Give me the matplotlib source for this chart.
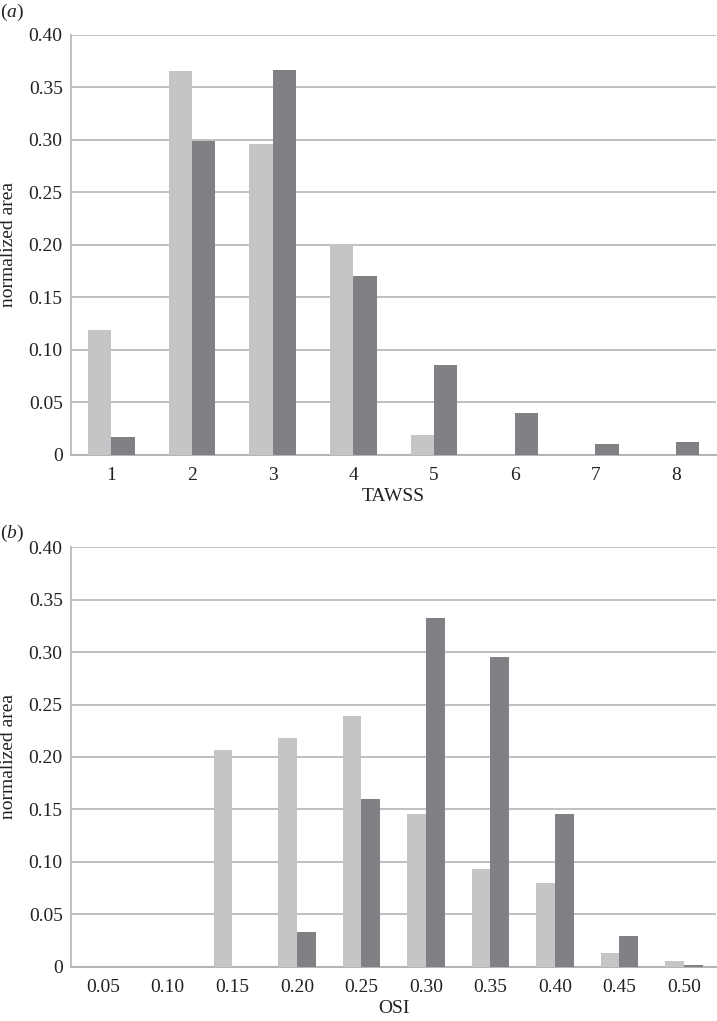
import numpy as np
import matplotlib
matplotlib.use("Agg")
import matplotlib.pyplot as plt

plt.rcParams["font.family"] = "Liberation Serif"
plt.rcParams["mathtext.fontset"] = "custom"
plt.rcParams["mathtext.it"] = "Liberation Serif:italic"
plt.rcParams["mathtext.rm"] = "Liberation Serif"

# panel (a): TAWSS histogram
tawss_bins = ["1", "2", "3", "4", "5", "6", "7", "8"]
tawss_light = [0.119, 0.365, 0.296, 0.201, 0.019, 0.0, 0.0, 0.0]
tawss_dark = [0.017, 0.299, 0.366, 0.170, 0.085, 0.040, 0.010, 0.012]

# panel (b): OSI histogram
osi_bins = ["0.05", "0.10", "0.15", "0.20", "0.25", "0.30", "0.35", "0.40", "0.45", "0.50"]
osi_light = [0.0, 0.0, 0.207, 0.218, 0.239, 0.146, 0.093, 0.080, 0.013, 0.005]
osi_dark = [0.0, 0.0, 0.0, 0.033, 0.160, 0.333, 0.295, 0.146, 0.029, 0.002]

yticks = [0, 0.05, 0.10, 0.15, 0.20, 0.25, 0.30, 0.35, 0.40]
ytick_labels = ["0", "0.05", "0.10", "0.15", "0.20", "0.25", "0.30", "0.35", "0.40"]

LIGHT = "#c4c5c7"
DARK = "#808184"
GRID = "#b4b5b7"
FS = 14

fig = plt.figure(figsize=(7.17, 10.21), dpi=100)
ax_a = fig.add_axes([0.099, 0.5547, 0.9, 0.4113])
ax_b = fig.add_axes([0.099, 0.0532, 0.9, 0.4108])


def draw(ax, cats, light, dark, xlabel):
    x = np.arange(len(cats))
    w = 0.29
    ax.bar(x - w / 2, light, width=w, color=LIGHT, zorder=3)
    ax.bar(x + w / 2, dark, width=w, color=DARK, zorder=3)
    ax.set_xlim(-0.5, len(cats) - 0.5)
    ax.set_ylim(0, 0.40)
    ax.set_yticks(yticks)
    ax.set_yticklabels(ytick_labels)
    ax.set_xticks(x)
    ax.set_xticklabels(cats)
    ax.yaxis.grid(True, color=GRID, linewidth=1.2, zorder=0)
    ax.set_axisbelow(True)
    for s in ["top", "right"]:
        ax.spines[s].set_visible(False)
    ax.spines["left"].set_color(GRID)
    ax.spines["bottom"].set_color(GRID)
    ax.spines["left"].set_linewidth(1.2)
    ax.spines["bottom"].set_linewidth(1.5)
    ax.tick_params(axis="both", length=0, labelsize=FS, colors="#222222")
    ax.tick_params(axis="y", pad=6)
    ax.tick_params(axis="x", pad=9)
    ax.set_xlabel(xlabel, fontsize=FS, color="#222222", labelpad=3)
    ax.set_ylabel("normalized area", fontsize=FS, color="#222222")
    ax.yaxis.set_label_coords(-0.083, 0.5)


draw(ax_a, tawss_bins, tawss_light, tawss_dark, "TAWSS")
draw(ax_b, osi_bins, osi_light, osi_dark, "OSI")

fig.text(0.0, 0.988, r"($\mathit{a}$)", fontsize=FS, va="center", ha="left", color="#222222")
fig.text(0.0, 0.478, r"($\mathit{b}$)", fontsize=FS, va="center", ha="left", color="#222222")

fig.savefig("out.png", dpi=100)
